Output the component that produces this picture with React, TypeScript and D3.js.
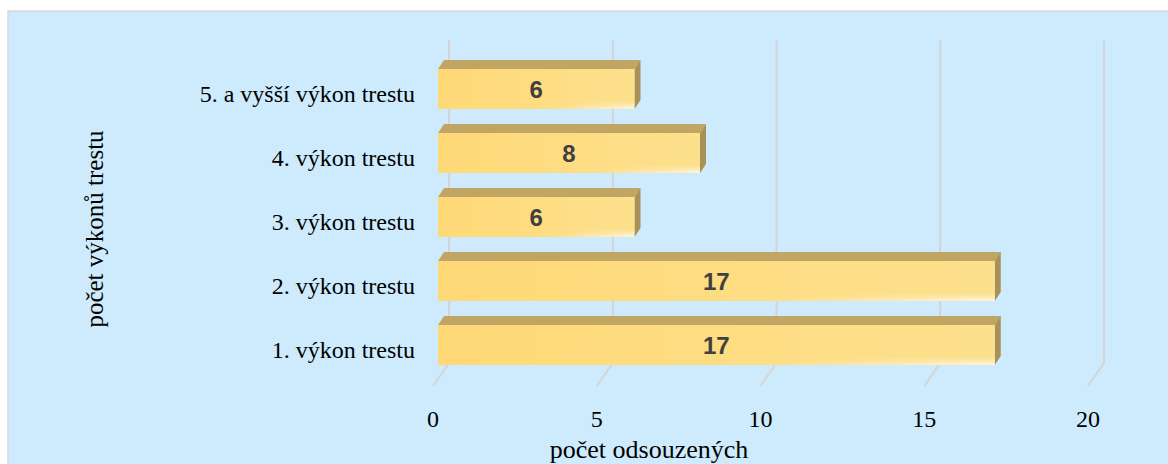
import React from 'react';
import * as d3 from 'd3';

const categories = ['1. výkon trestu', '2. výkon trestu', '3. výkon trestu', '4. výkon trestu', '5. a vyšší výkon trestu'];
const values = [17, 17, 6, 8, 6];
const xTicks = [0, 5, 10, 15, 20];

const W = 1168;
const H = 464;
// 3D offsets
const WALL = { dx: 16, dy: -23 }; // floor front -> back wall
const BAR = { dx: 6, dy: -9 }; // bar front face -> back face

const App = () => {
  const x = d3.scaleLinear().domain([0, 20]).range([433, 1088]);
  const xBar = d3.scaleLinear().domain([0, 20]).range([438, 1093]);
  // categories from top (last) to bottom (first)
  const y = d3.scaleBand<string>()
    .domain([...categories].reverse())
    .range([37, 397])
    .paddingInner(0.375)
    .paddingOuter(0.5);

  const floorY = 386;
  const wallTop = 40;
  const serif = '"Liberation Serif", "Times New Roman", serif';
  const sans = '"Liberation Sans", Arial, sans-serif';

  return (
    <svg width={W} height={H} style={{ position: 'absolute', left: 0, top: 0 }}>
      <defs>
        <linearGradient id="barFront" x1="0" y1="0" x2="1" y2="0">
          <stop offset="0" stopColor="#ffd977" />
          <stop offset="1" stopColor="#fde08d" />
        </linearGradient>
        <linearGradient id="barShine" x1="0" y1="0" x2="0" y2="1">
          <stop offset="0.8" stopColor="#fffaf0" stopOpacity="0" />
          <stop offset="1" stopColor="#fffaf0" stopOpacity="0.8" />
        </linearGradient>
        <linearGradient id="shineMask" x1="0" y1="0" x2="1" y2="0">
          <stop offset="0.6" stopColor="#fff" stopOpacity="0" />
          <stop offset="1" stopColor="#fff" stopOpacity="1" />
        </linearGradient>
        <mask id="shineM" maskContentUnits="objectBoundingBox">
          <rect x={0} y={0} width={1} height={1} fill="url(#shineMask)" />
        </mask>
      </defs>
      <rect x={8} y={11} width={W} height={H} fill="#cdebfd" stroke="#d9d9d9" strokeWidth={1.5} />

      {/* grid lines: back wall + floor diagonal */}
      <g stroke="#d4d4d4" strokeWidth={2} fill="none">
        {xTicks.map(t => (
          <path
            key={t}
            d={`M${x(t) + WALL.dx},${wallTop} L${x(t) + WALL.dx},${floorY + WALL.dy} L${x(t)},${floorY}`}
          />
        ))}
      </g>

      {/* bars */}
      {categories.map((c, i) => {
        const v = values[i];
        const x0 = xBar(0);
        const x1 = xBar(v);
        const y0 = y(c)!;
        const h = y.bandwidth();
        return (
          <g key={c}>
            <path
              d={`M${x0},${y0} L${x0 + BAR.dx},${y0 + BAR.dy} L${x1 + BAR.dx},${y0 + BAR.dy} L${x1},${y0} Z`}
              fill="#c1a663"
            />
            <path
              d={`M${x1},${y0} L${x1 + BAR.dx},${y0 + BAR.dy} L${x1 + BAR.dx},${y0 + h + BAR.dy} L${x1},${y0 + h} Z`}
              fill="#a99056"
            />
            <rect x={x0} y={y0} width={x1 - x0} height={h} fill="url(#barFront)" />
            <rect x={x0} y={y0} width={x1 - x0} height={h} fill="url(#barShine)" mask="url(#shineM)" />
            <text
              x={(x0 + x1) / 2}
              y={y0 + h / 2}
              dy="0.36em"
              textAnchor="middle"
              fontFamily={sans}
              fontWeight="bold"
              fontSize={24}
              fill="#404040"
            >
              {v}
            </text>
            <text
              x={415}
              y={y0 + h / 2 + 5}
              dy="0.35em"
              textAnchor="end"
              fontFamily={serif}
              fontSize={24}
              fill="#000"
            >
              {c}
            </text>
          </g>
        );
      })}

      {/* x tick labels */}
      {xTicks.map(t => (
        <text key={t} x={x(t)} y={427} textAnchor="middle" fontFamily={serif} fontSize={24} fill="#000">
          {t}
        </text>
      ))}

      <text x={649} y={458} textAnchor="middle" fontFamily={serif} fontSize={26} fill="#000">
        počet odsouzených
      </text>
      <text
        transform={`translate(103, 229) rotate(-90)`}
        textAnchor="middle"
        fontFamily={serif}
        fontSize={25}
        fill="#000"
      >
        počet výkonů trestu
      </text>
    </svg>
  );
};

export default App;
